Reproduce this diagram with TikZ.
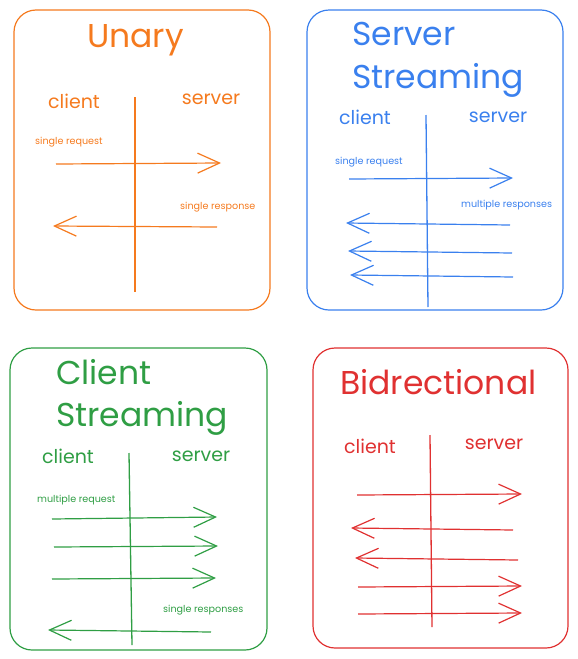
\documentclass[tikz,border=0pt]{standalone}
\usepackage{fontspec}
\setmainfont{Poppins}
\usetikzlibrary{arrows.meta}
\definecolor{cor}{HTML}{F57A1E}
\definecolor{cbl}{HTML}{3A80EE}
\definecolor{cgr}{HTML}{2F9E44}
\definecolor{cre}{HTML}{E03131}
\tikzset{
  frame/.style={line width=1.2pt, rounded corners=22pt},
  lifeline/.style={line width=1.3pt},
  msg/.style={line width=1.2pt, -{Straight Barb[length=22pt,width=20pt,line width=1.2pt]}},
  title/.style={font=\fontsize{33}{36}\selectfont, anchor=west, inner sep=0pt, align=left},
  side/.style={font=\fontsize{19}{22}\selectfont, inner sep=0pt},
  lab/.style={font=\fontsize{9.6}{11}\selectfont, anchor=west, inner sep=0pt},
}
\begin{document}
\begin{tikzpicture}[x=1pt,y=-1pt]
\useasboundingbox (0,0) rectangle (578,659);
% ---------- Unary ----------
\begin{scope}[color=cor]
\draw[frame] (14,10) rectangle (270,310);
\node[title] (t1) at (87,40) {Unary};
\node[side] (c1) at (74,101) {client};
\node[side] (s1) at (211,99) {server};
\coordinate (v1a) at (135,97); \coordinate (v1b) at (135,292);
\draw[lifeline] (v1a) -- (v1b);
\node[lab] (l1a) at (35,142) {single request};
\coordinate (a1s) at (56,164); \coordinate (a1e) at (221,163);
\draw[msg] (a1s) -- (a1e);
\node[lab] (l1b) at (180,207) {single response};
\coordinate (b1s) at (217,227); \coordinate (b1e) at (53,226);
\draw[msg] (b1s) -- (b1e);
\end{scope}
% ---------- Server Streaming ----------
\begin{scope}[color=cbl]
\draw[frame] (307,10) rectangle (563,310);
\node[title] (t2) at (352,34) {Server};
\node[title] (t2b) at (352,80) {Streaming};
\node[side] (c2) at (365,117) {client};
\node[side] (s2) at (498,117) {server};
\coordinate (v2a) at (426,115); \coordinate (v2b) at (428,307);
\draw[lifeline] (v2a) -- (v2b);
\node[lab] (l2a) at (335,162) {single request};
\coordinate (a2s) at (349,179); \coordinate (a2e) at (513,178);
\draw[msg] (a2s) -- (a2e);
\node[lab] (l2b) at (461,205) {multiple responses};
\coordinate (b2s) at (510,225); \coordinate (b2e) at (346,223);
\draw[msg] (b2s) -- (b2e);
\coordinate (c2s) at (512,253); \coordinate (c2e) at (348,251);
\draw[msg] (c2s) -- (c2e);
\coordinate (d2s) at (513,277); \coordinate (d2e) at (350,275);
\draw[msg] (d2s) -- (d2e);
\end{scope}
% ---------- Client Streaming ----------
\begin{scope}[color=cgr]
\draw[frame] (10,348) rectangle (267,650);
\node[title] (t3) at (56,372) {Client};
\node[title] (t3b) at (56,418) {Streaming};
\node[side] (c3) at (68,456) {client};
\node[side] (s3) at (201,456) {server};
\coordinate (v3a) at (129,453); \coordinate (v3b) at (132,645);
\draw[lifeline] (v3a) -- (v3b);
\node[lab] (l3a) at (37,500) {multiple request};
\coordinate (a3s) at (52,519); \coordinate (a3e) at (217,517);
\draw[msg] (a3s) -- (a3e);
\coordinate (b3s) at (54,547); \coordinate (b3e) at (218,546);
\draw[msg] (b3s) -- (b3e);
\coordinate (c3s) at (52,579); \coordinate (c3e) at (216,578);
\draw[msg] (c3s) -- (c3e);
\node[lab] (l3b) at (163,610) {single responses};
\coordinate (d3s) at (211,632); \coordinate (d3e) at (48,630);
\draw[msg] (d3s) -- (d3e);
\end{scope}
% ---------- Bidrectional ----------
\begin{scope}[color=cre]
\draw[frame] (313,348) rectangle (568,648);
\node[title] (t4) at (340,382) {Bidrectional};
\node[side] (c4) at (370,446) {client};
\node[side] (s4) at (494,444) {server};
\coordinate (v4a) at (430,435); \coordinate (v4b) at (432,627);
\draw[lifeline] (v4a) -- (v4b);
\coordinate (a4s) at (357,495); \coordinate (a4e) at (522,494);
\draw[msg] (a4s) -- (a4e);
\coordinate (b4s) at (513,530); \coordinate (b4e) at (351,528);
\draw[msg] (b4s) -- (b4e);
\coordinate (c4s) at (518,560); \coordinate (c4e) at (355,558);
\draw[msg] (c4s) -- (c4e);
\coordinate (d4s) at (358,587); \coordinate (d4e) at (522,586);
\draw[msg] (d4s) -- (d4e);
\coordinate (e4s) at (358,614); \coordinate (e4e) at (522,613);
\draw[msg] (e4s) -- (e4e);
\end{scope}
\end{tikzpicture}
\end{document}
